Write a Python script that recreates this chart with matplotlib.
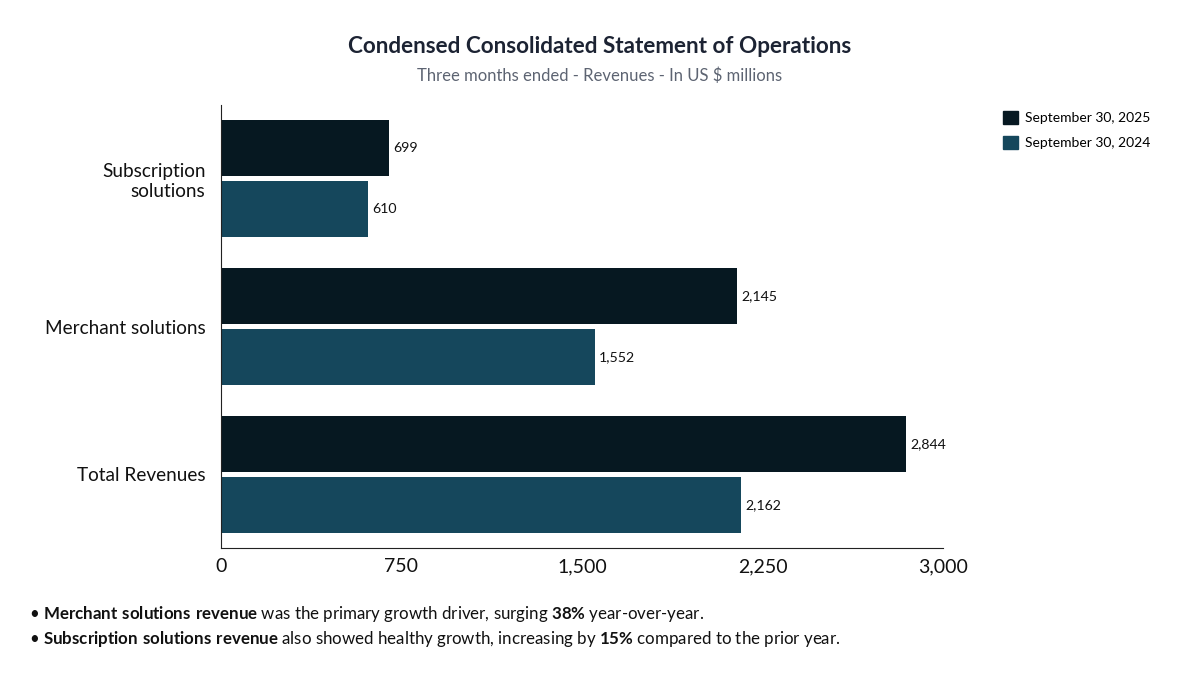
import matplotlib.pyplot as plt
import numpy as np
from matplotlib.patches import Patch

plt.rcParams['font.family'] = ['Lato', 'DejaVu Sans']
plt.rcParams['mathtext.fontset'] = 'custom'
plt.rcParams['mathtext.rm'] = 'Lato'
plt.rcParams['mathtext.bf'] = 'Lato:bold'

categories = ["Subscription\nsolutions", "Merchant solutions", "Total Revenues"]
rev_2025 = [699, 2145, 2844]
rev_2024 = [610, 1552, 2162]
series_labels = ["September 30, 2025", "September 30, 2024"]
x_ticks = [0, 750, 1500, 2250, 3000]

c_2025 = "#061821"
c_2024 = "#15475c"

fig = plt.figure(figsize=(12, 6.76), dpi=100)
ax = fig.add_axes([0.184, 0.189, 0.602, 0.656])

y = np.arange(len(categories))
h = 0.378
off = 0.206
b1 = ax.barh(y - off, rev_2025, height=h, color=c_2025)
b2 = ax.barh(y + off, rev_2024, height=h, color=c_2024)

for bars, vals in ((b1, rev_2025), (b2, rev_2024)):
    for bar, v in zip(bars, vals):
        ax.text(bar.get_width() + 18, bar.get_y() + bar.get_height() / 2,
                f"{v:,}", va='center', ha='left', fontsize=10.2, color='#111111')

ax.set_ylim(2.5, -0.5)
ax.set_xlim(0, 3000)
ax.set_yticks(y)
ax.set_yticklabels(categories, fontsize=13.7, color='#111111')
ax.set_xticks(x_ticks)
ax.set_xticklabels([f"{t:,}" for t in x_ticks], fontsize=14, color='#111111')
ax.tick_params(axis='y', length=0, pad=11)
ax.tick_params(axis='x', length=0, pad=7)
ax.spines['top'].set_visible(False)
ax.spines['right'].set_visible(False)
ax.spines['left'].set_color('#222222')
ax.spines['bottom'].set_color('#222222')

handles = [Patch(color=c_2025), Patch(color=c_2024)]
fig.legend(handles, series_labels, loc='upper left', bbox_to_anchor=(0.825, 0.855),
           frameon=False, fontsize=10, handlelength=1.1, handleheight=1.1,
           handletextpad=0.5, labelspacing=0.85)

fig.text(0.5, 0.931, "Condensed Consolidated Statement of Operations",
         ha='center', va='center', fontsize=16.2, fontweight='bold', color='#1c2333')
fig.text(0.5, 0.888, "Three months ended - Revenues - In US $ millions",
         ha='center', va='center', fontsize=12, color='#5d6472')

fig.text(0.024, 0.092,
         r"• $\bf{Merchant\ solutions\ revenue}$ was the primary growth driver, surging $\bf{38\%}$ year-over-year.",
         ha='left', va='center', fontsize=12.2, color='#111111')
fig.text(0.024, 0.055,
         r"• $\bf{Subscription\ solutions\ revenue}$ also showed healthy growth, increasing by $\bf{15\%}$ compared to the prior year.",
         ha='left', va='center', fontsize=12.2, color='#111111')

fig.savefig("out.png", dpi=100, facecolor='white')
